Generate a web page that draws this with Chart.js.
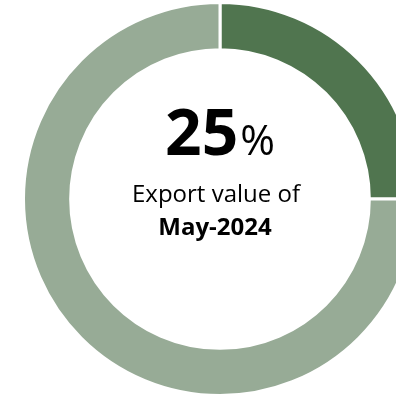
<!DOCTYPE html>
<html>
<head>
<meta charset="utf-8">
<script src="https://cdn.jsdelivr.net/npm/chart.js@4"></script>
<style>
  html, body { margin: 0; padding: 0; background: #ffffff; overflow: hidden; }
  #wrap { position: absolute; left: 0; top: 0; width: 440px; height: 398px; }
</style>
</head>
<body>
<div id="wrap"><canvas id="c" width="440" height="398"></canvas></div>
<script>
const categories = ["May-2024", "Rest of year"];
const shareValues = [25, 75];
const sliceColors = ["#50754f", "#97ab96"];
const centerValue = "25";
const centerUnit = "%";
const centerLine1 = "Export value of";
const centerLine2 = "May-2024";

const centerText = {
  id: "centerText",
  afterDraw(chart) {
    const arc = chart.getDatasetMeta(0).data[0];
    const cx = arc.x, cy = arc.y;
    const ctx = chart.ctx;
    ctx.save();
    ctx.fillStyle = "#000000";
    ctx.textBaseline = "alphabetic";
    const bigFont = "bold 64px 'Open Sans'";
    const unitFont = "42px 'Open Sans'";
    ctx.font = bigFont;
    const w1 = ctx.measureText(centerValue).width;
    ctx.font = unitFont;
    const w2 = ctx.measureText(centerUnit).width;
    const startX = cx - (w1 + w2 + 2) / 2;
    ctx.textAlign = "left";
    ctx.font = bigFont;
    ctx.fillText(centerValue, startX, cy - 44);
    ctx.font = unitFont;
    ctx.fillText(centerUnit, startX + w1 + 2, cy - 44);
    ctx.textAlign = "center";
    ctx.font = "24px 'Open Sans'";
    ctx.fillText(centerLine1, cx - 4, cy + 3);
    ctx.font = "bold 24px 'Open Sans'";
    ctx.fillText(centerLine2, cx - 5, cy + 36);
    ctx.restore();
  }
};

new Chart(document.getElementById("c"), {
  type: "doughnut",
  data: {
    labels: categories,
    datasets: [{
      data: shareValues,
      backgroundColor: sliceColors,
      borderColor: "#ffffff",
      borderWidth: 3,
      hoverOffset: 0
    }]
  },
  options: {
    responsive: false,
    animation: false,
    cutout: "76%",
    layout: { padding: { top: 1, bottom: 1, left: 4, right: 4 } },
    plugins: {
      legend: { display: false },
      tooltip: { enabled: false }
    }
  },
  plugins: [centerText]
});
</script>
</body>
</html>
